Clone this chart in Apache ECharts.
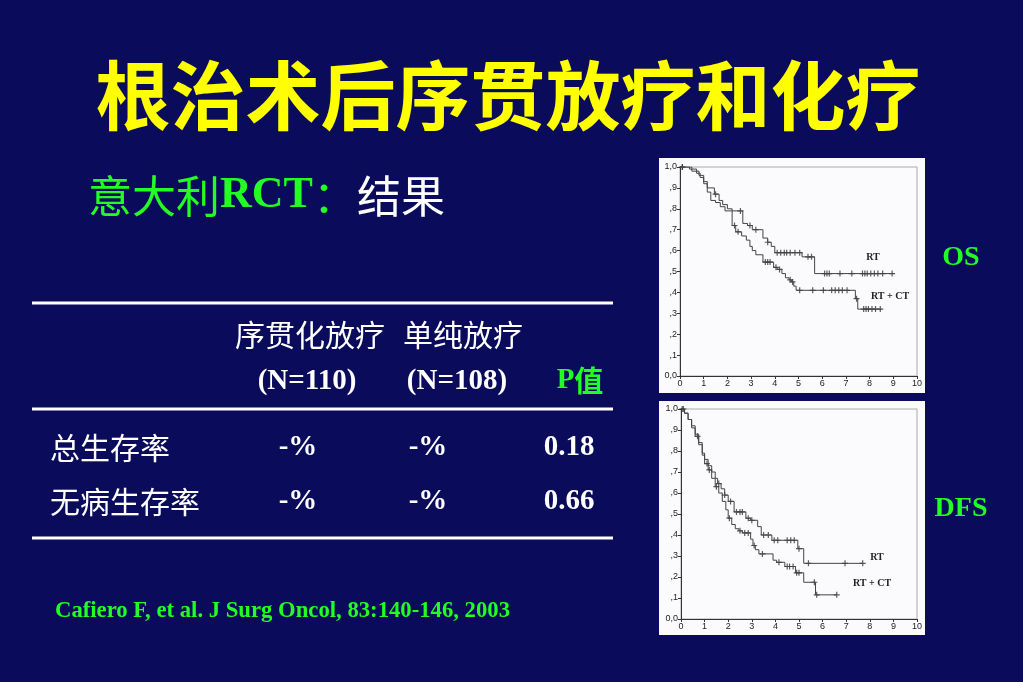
<!DOCTYPE html>
<html>
<head>
<meta charset="utf-8">
<script src="https://cdn.jsdelivr.net/npm/echarts@6/dist/echarts.min.js"></script>
<style>
  html, body { margin: 0; padding: 0; background: #0b0b5c; }
  #chart { width: 1023px; height: 682px; }
</style>
</head>
<body>
<div id="chart"></div>
<script>
// OS curves (years, survival)
var osRtTime = [0, 0.4, 0.7, 0.85, 1.0, 1.15, 1.45, 1.65, 1.8, 2.0, 2.2, 2.65, 2.85, 3.05, 3.5, 3.7, 3.85, 4.0, 5.15, 5.68, 9.0]
var osRtSurv = [1.0, 0.99, 0.97, 0.95, 0.92, 0.90, 0.87, 0.84, 0.82, 0.80, 0.79, 0.73, 0.72, 0.70, 0.66, 0.64, 0.62, 0.59, 0.57, 0.49, 0.49]
var osRtCensor = [0.1, 1.5, 2.55, 2.95, 3.2, 3.7, 4.1, 4.25, 4.4, 4.5, 4.65, 4.85, 5.05, 5.4, 5.55, 6.1, 6.2, 6.3, 6.75, 7.25, 7.7, 7.8, 7.9, 8.05, 8.2, 8.35, 8.55, 8.95]

var osCtTime = [0, 0.5, 0.8, 1.0, 1.15, 1.3, 1.5, 1.7, 1.9, 2.2, 2.35, 2.6, 2.8, 2.95, 3.05, 3.2, 3.5, 3.95, 4.1, 4.3, 4.45, 4.6, 4.7, 4.8, 4.9, 7.4, 7.5, 8.5]
var osCtSurv = [1.0, 0.98, 0.96, 0.93, 0.88, 0.84, 0.83, 0.81, 0.79, 0.72, 0.69, 0.67, 0.65, 0.62, 0.60, 0.58, 0.545, 0.52, 0.51, 0.49, 0.47, 0.46, 0.45, 0.43, 0.41, 0.37, 0.32, 0.32]
var osCtCensor = [0.1, 2.3, 2.45, 3.6, 3.7, 3.8, 4.05, 4.2, 4.65, 4.75, 5.05, 5.6, 6.05, 6.4, 6.55, 6.7, 6.85, 7.05, 7.45, 7.75, 7.85, 7.95, 8.1, 8.25, 8.45]

// DFS curves
var dfsRtTime = [0, 0.15, 0.3, 0.45, 0.6, 0.75, 0.9, 1.0, 1.15, 1.3, 1.45, 1.55, 1.7, 1.85, 2.0, 2.25, 2.75, 2.95, 3.25, 3.4, 3.85, 4.95, 5.2, 7.7]
var dfsRtSurv = [1.0, 0.98, 0.95, 0.92, 0.88, 0.84, 0.79, 0.76, 0.73, 0.70, 0.67, 0.645, 0.62, 0.59, 0.56, 0.51, 0.48, 0.47, 0.44, 0.40, 0.375, 0.335, 0.265, 0.265]
var dfsRtCensor = [0.1, 1.6, 1.85, 2.1, 2.35, 2.5, 2.6, 2.85, 3.0, 3.5, 3.7, 3.95, 4.1, 4.5, 4.65, 4.8, 5.0, 5.4, 6.95, 7.7]

var dfsCtTime = [0, 0.15, 0.3, 0.45, 0.6, 0.75, 0.9, 1.0, 1.15, 1.3, 1.45, 1.6, 1.75, 1.9, 2.0, 2.15, 2.3, 2.45, 2.6, 2.95, 3.05, 3.15, 3.3, 3.9, 4.05, 4.4, 4.85, 5.2, 5.7, 6.6]
var dfsCtSurv = [1.0, 0.98, 0.95, 0.91, 0.87, 0.83, 0.78, 0.74, 0.71, 0.67, 0.63, 0.60, 0.56, 0.52, 0.48, 0.45, 0.43, 0.42, 0.41, 0.38, 0.35, 0.33, 0.31, 0.28, 0.27, 0.25, 0.22, 0.175, 0.115, 0.115]
var dfsCtCensor = [0.05, 0.7, 1.1, 1.2, 1.5, 2.05, 2.5, 2.7, 2.85, 3.1, 3.45, 4.15, 4.5, 4.6, 4.75, 4.9, 5.0, 5.65, 5.75, 6.6]

// table
var colHeads = ['序贯化放疗', '单纯放疗']
var colN = ['(N=110)', '(N=108)']
var rowNames = ['总生存率', '无病生存率']
var ctValues = ['-%', '-%']
var rtValues = ['-%', '-%']
var pValues = ['0.18', '0.66']

var yTicks = ['0,0', ',1', ',2', ',3', ',4', ',5', ',6', ',7', ',8', ',9', '1,0']

var GREEN = '#22ff22'
var SERIF = '"Liberation Serif", "Times New Roman", serif'
var CJK = '"Noto Sans CJK SC", sans-serif'
var PLUS = 'path://M4,0H6V4H10V6H6V10H4V6H0V4H4Z'

function survAt(times, surv, t) {
  var s = surv[0]
  for (var i = 0; i < times.length; i++) {
    if (times[i] <= t) s = surv[i]
  }
  return s
}

function curve(times, surv, idx) {
  return {
    type: 'line',
    step: 'end',
    xAxisIndex: idx,
    yAxisIndex: idx,
    showSymbol: false,
    silent: true,
    lineStyle: { color: '#444', width: 1 },
    data: times.map(function(t, i) { return [t, surv[i]] })
  }
}

function censor(times, surv, marks, idx) {
  return {
    type: 'scatter',
    xAxisIndex: idx,
    yAxisIndex: idx,
    symbol: PLUS,
    symbolSize: 6,
    silent: true,
    itemStyle: { color: '#333' },
    data: marks.map(function(t) { return [t, survAt(times, surv, t)] })
  }
}

function xAxis(idx) {
  return {
    type: 'value', gridIndex: idx, min: 0, max: 10, interval: 1,
    axisLine: { lineStyle: { color: '#333', width: 1 } },
    axisTick: { length: 3, lineStyle: { color: '#333' } },
    axisLabel: { fontSize: 9, color: '#222', margin: 3, fontFamily: 'Liberation Sans' },
    splitLine: { show: false }
  }
}

function yAxis(idx) {
  return {
    type: 'value', gridIndex: idx, min: 0, max: 1, interval: 0.1,
    axisLine: { show: true, lineStyle: { color: '#333', width: 1 } },
    axisTick: { show: true, length: 3, lineStyle: { color: '#333' } },
    axisLabel: {
      fontSize: 9, color: '#222', margin: 3, fontFamily: 'Liberation Sans',
      formatter: function(v) { return yTicks[Math.round(v * 10)] }
    },
    splitLine: { show: false }
  }
}

function txt(text, x, y, font, fill, align) {
  return {
    type: 'text', z: 10,
    style: { text: text, x: x, y: y, font: font, fill: fill, textAlign: align || 'center', textVerticalAlign: 'middle' }
  }
}

var graphics = [
  { type: 'rect', z: -1, shape: { x: 659, y: 158, width: 266, height: 235 }, style: { fill: '#fbfbfd' } },
  { type: 'rect', z: -1, shape: { x: 659, y: 401, width: 266, height: 234 }, style: { fill: '#fbfbfd' } },
  txt('根治术后序贯放疗和化疗', 508, 95, 'bold 75px ' + CJK, '#ffff00'),
  {
    type: 'text', z: 10,
    style: {
      x: 88, y: 196, textVerticalAlign: 'middle',
      text: '{g|意大利}{r|RCT}{g|：}{w|结果}',
      rich: {
        g: { font: '44px ' + CJK, fill: GREEN },
        r: { font: 'bold 44px ' + SERIF, fill: GREEN },
        w: { font: '44px ' + CJK, fill: '#ffffff' }
      }
    }
  },
  txt('OS', 961, 258, 'bold 28px ' + SERIF, GREEN),
  txt('DFS', 961, 509, 'bold 28px ' + SERIF, GREEN),
  txt('RT', 873, 257, 'bold 10px ' + SERIF, '#222'),
  txt('RT + CT', 890, 296, 'bold 10px ' + SERIF, '#222'),
  txt('RT', 877, 557, 'bold 10px ' + SERIF, '#222'),
  txt('RT + CT', 872, 583, 'bold 10px ' + SERIF, '#222'),
  // table rules
  { type: 'line', z: 10, shape: { x1: 32, y1: 303, x2: 613, y2: 303 }, style: { stroke: '#fff', lineWidth: 3 } },
  { type: 'line', z: 10, shape: { x1: 32, y1: 409, x2: 613, y2: 409 }, style: { stroke: '#fff', lineWidth: 3 } },
  { type: 'line', z: 10, shape: { x1: 32, y1: 538, x2: 613, y2: 538 }, style: { stroke: '#fff', lineWidth: 3 } },
  txt(colHeads[0], 310, 335, '30px ' + CJK, '#fff'),
  txt(colHeads[1], 463, 335, '30px ' + CJK, '#fff'),
  txt(colN[0], 307, 382, 'bold 29px ' + SERIF, '#fff'),
  txt(colN[1], 457, 382, 'bold 29px ' + SERIF, '#fff'),
  {
    type: 'text', z: 10,
    style: {
      x: 580, y: 381, textAlign: 'center', textVerticalAlign: 'middle',
      text: '{p|P}{c|值}',
      rich: {
        p: { font: 'bold 29px ' + SERIF, fill: GREEN },
        c: { font: 'bold 29px ' + CJK, fill: GREEN }
      }
    }
  },
  txt('Cafiero F, et al. J Surg Oncol, 83:140-146, 2003', 55, 611, 'bold 22.7px ' + SERIF, GREEN, 'left')
]

var rowY = [448, 502]
rowNames.forEach(function(name, i) {
  graphics.push(txt(name, 50, rowY[i], '30px ' + CJK, '#fff', 'left'))
  graphics.push(txt(ctValues[i], 298, rowY[i], 'bold 29px ' + SERIF, '#fff'))
  graphics.push(txt(rtValues[i], 428, rowY[i], 'bold 29px ' + SERIF, '#fff'))
  graphics.push(txt(pValues[i], 569, rowY[i], 'bold 29px ' + SERIF, '#fff'))
})

var chart = echarts.init(document.getElementById('chart'))
chart.setOption({
  backgroundColor: '#0b0b5c',
  animation: false,
  grid: [
    { left: 680, top: 167, width: 237, height: 209, show: true, borderColor: '#aaa', borderWidth: 1 },
    { left: 681, top: 409, width: 236, height: 210, show: true, borderColor: '#aaa', borderWidth: 1 }
  ],
  xAxis: [xAxis(0), xAxis(1)],
  yAxis: [yAxis(0), yAxis(1)],
  series: [
    curve(osRtTime, osRtSurv, 0),
    censor(osRtTime, osRtSurv, osRtCensor, 0),
    curve(osCtTime, osCtSurv, 0),
    censor(osCtTime, osCtSurv, osCtCensor, 0),
    curve(dfsRtTime, dfsRtSurv, 1),
    censor(dfsRtTime, dfsRtSurv, dfsRtCensor, 1),
    curve(dfsCtTime, dfsCtSurv, 1),
    censor(dfsCtTime, dfsCtSurv, dfsCtCensor, 1)
  ],
  graphic: graphics
})
</script>
</body>
</html>
